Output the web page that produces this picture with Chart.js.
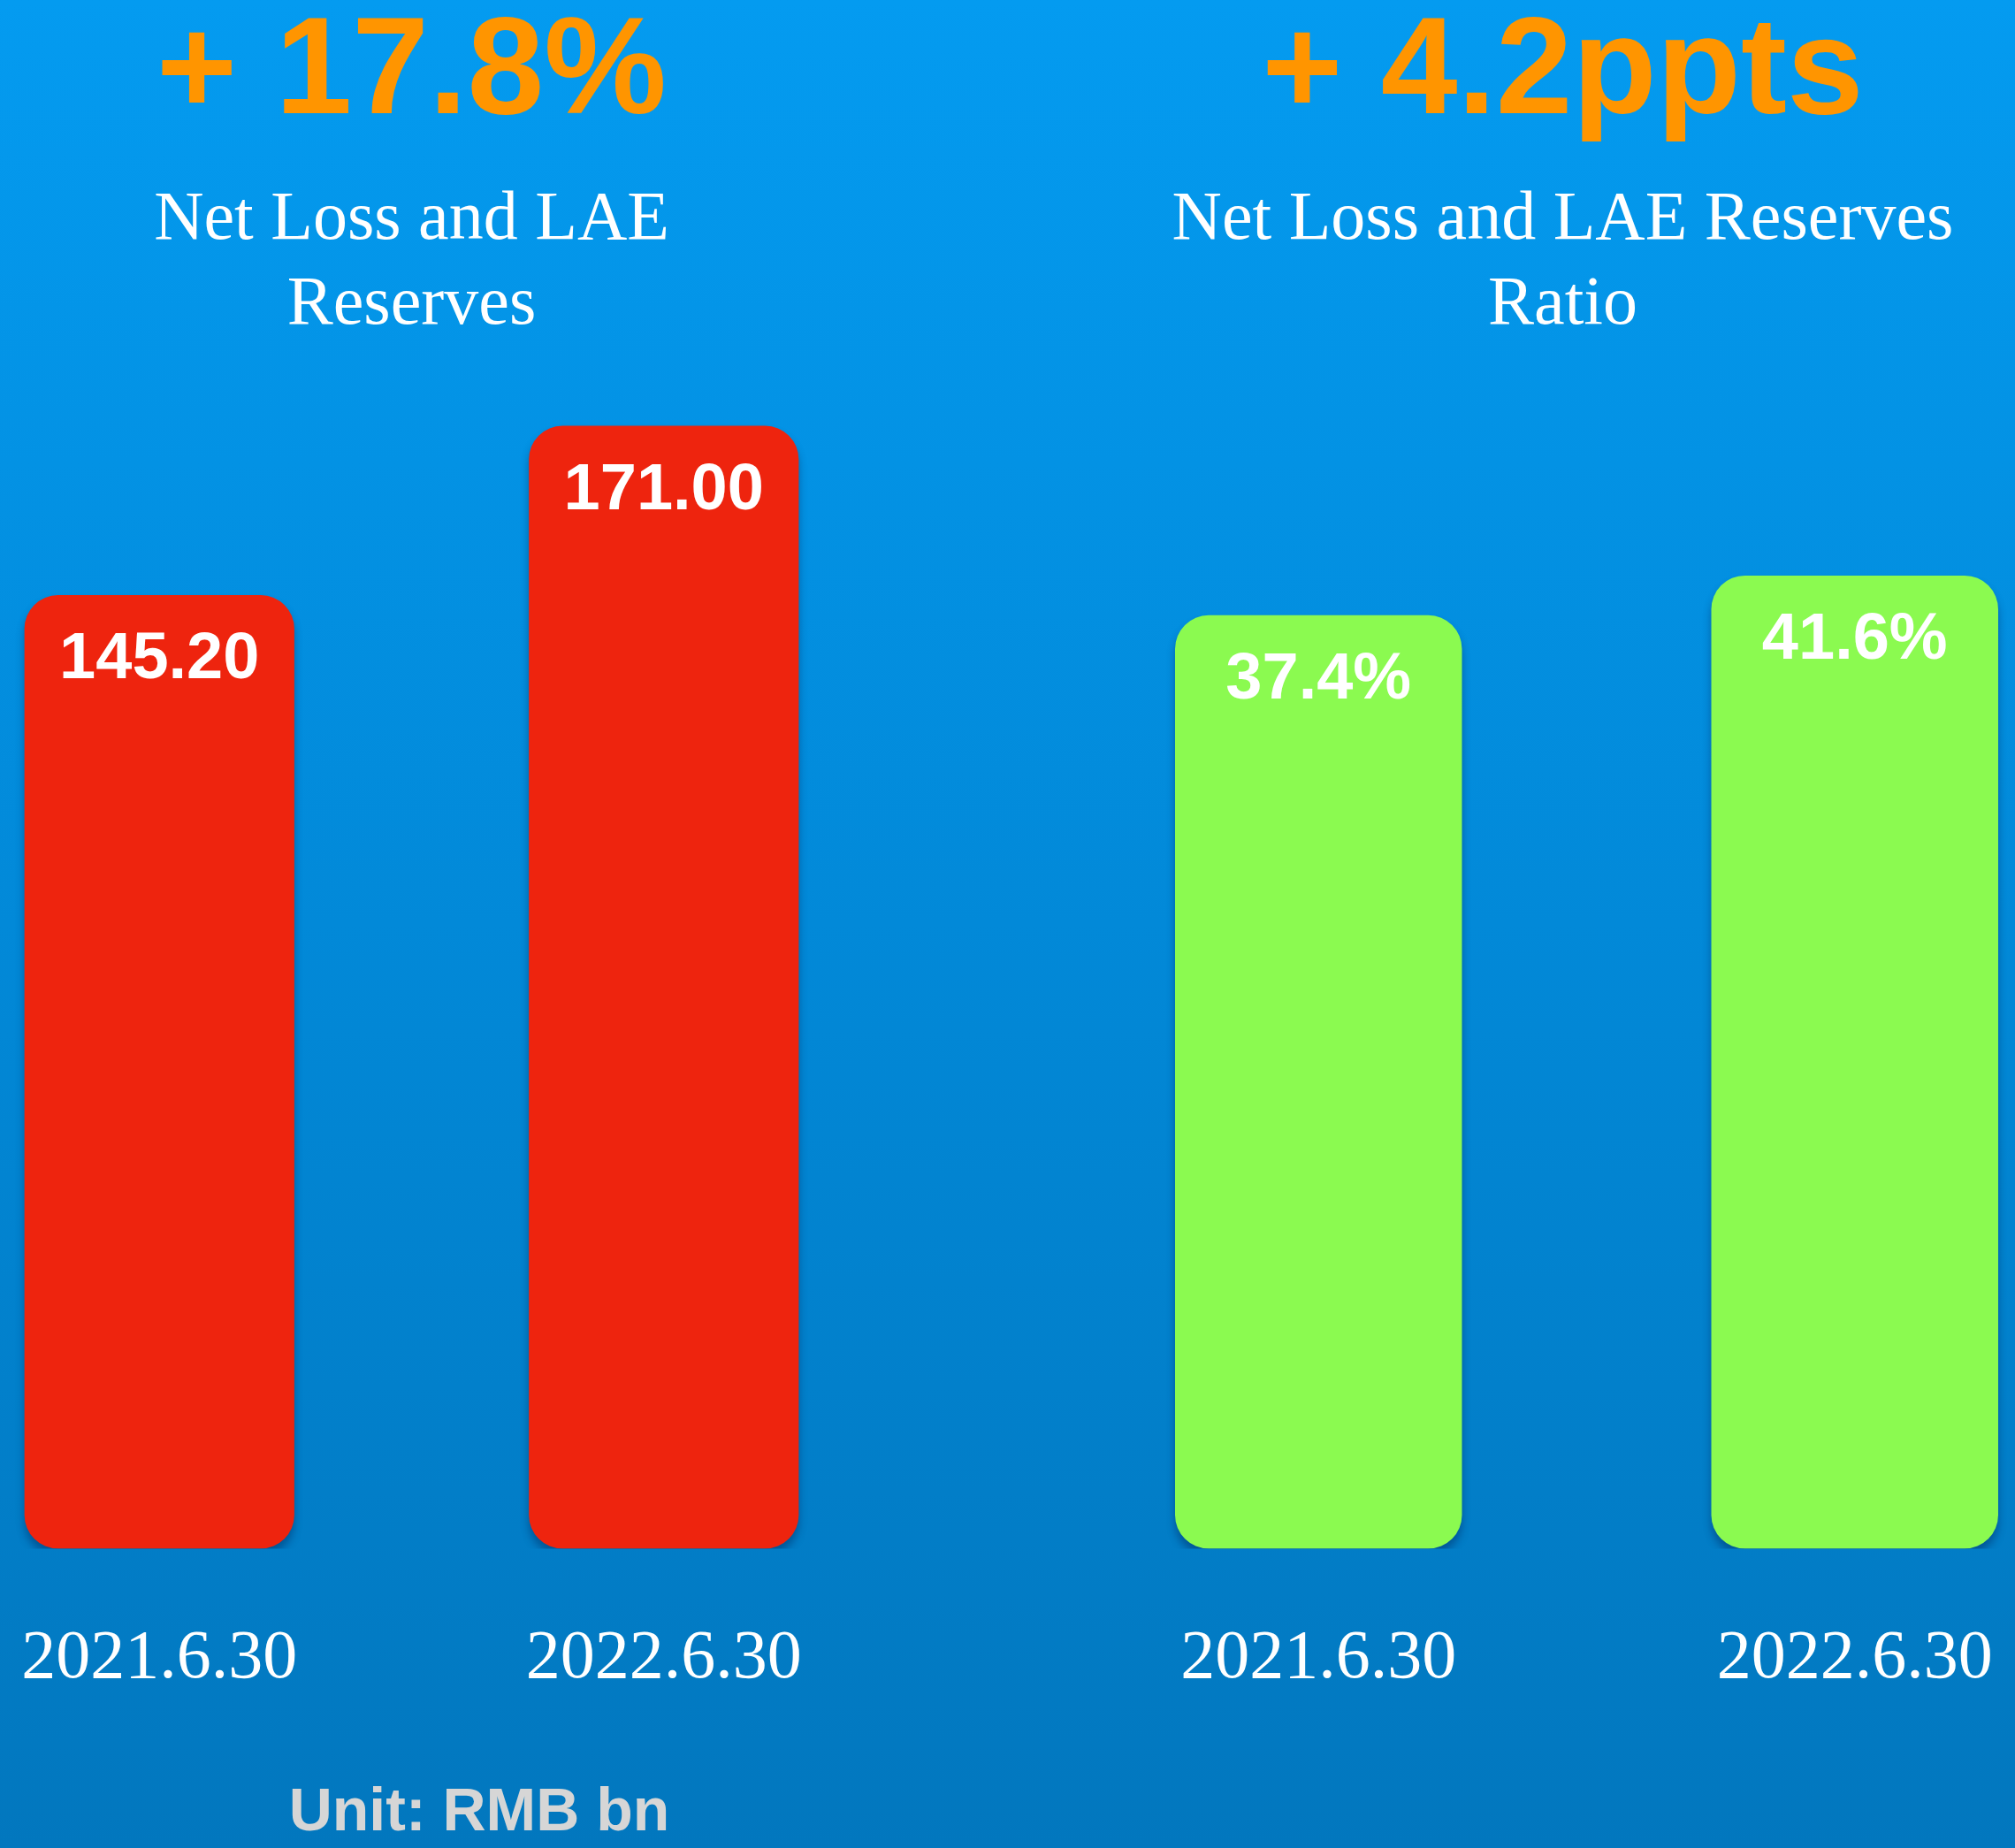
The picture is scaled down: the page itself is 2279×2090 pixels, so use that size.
<!DOCTYPE html>
<html>
<head>
<meta charset="utf-8">
<script src="https://cdn.jsdelivr.net/npm/chart.js@4.4.1/dist/chart.umd.min.js"></script>
<style>
  html, body {
    margin: 0;
    padding: 0;
    width: 2279px;
    height: 2090px;
    overflow: hidden;
  }
  body {
    position: relative;
    background: linear-gradient(to bottom, #049bf0 0%, #0289d8 50%, #0277be 100%);
  }
  canvas {
    position: absolute;
    top: 0;
  }
  #leftChart { left: -105px; }
  #rightChart { left: 1134px; }
  #unit {
    position: absolute;
    left: 242px;
    width: 600px;
    top: 2012px;
    text-align: center;
    font: bold 68px "Liberation Sans", Arial, sans-serif;
    line-height: 68px;
    color: #d6d6d6;
  }
</style>
</head>
<body>
<canvas id="leftChart" width="1141" height="2090"></canvas>
<canvas id="rightChart" width="1267" height="2090"></canvas>
<div id="unit"></div>

<script>
// data
const dateLabels = ["2021.6.30", "2022.6.30"];
const reserveValues = [145.20, 171.00];
const ratioValues = [37.4, 41.6];

const reserveTitle = "+ 17.8%";
const reserveSubtitle = ["Net Loss and LAE", "Reserves"];
const ratioTitle = "+ 4.2ppts";
const ratioSubtitle = ["Net Loss and LAE Reserves", "Ratio"];
const unitText = "Unit: RMB bn";

document.getElementById("unit").textContent = unitText;

// shadow under the bars + white value labels inside the bar tops
const barDecor = {
  id: "barDecor",
  beforeDatasetsDraw(chart) {
    const c = chart.ctx;
    c.save();
    c.shadowColor = "rgba(0, 40, 90, 0.45)";
    c.shadowBlur = 10;
    c.shadowOffsetY = 8;
  },
  afterDatasetsDraw(chart, args, opts) {
    const c = chart.ctx;
    c.restore();
    const meta = chart.getDatasetMeta(0);
    const values = chart.data.datasets[0].data;
    c.save();
    c.fillStyle = "#ffffff";
    c.font = "bold 74px 'Liberation Sans', Arial, sans-serif";
    c.textAlign = "center";
    c.textBaseline = "alphabetic";
    meta.data.forEach((bar, i) => {
      c.fillText(opts.format(values[i]), bar.x, bar.y + 94);
    });
    c.restore();
  }
};

function makeChart(id, values, color, title, subtitle, format, yMin, yMax, yWidth) {
  return new Chart(document.getElementById(id), {
    type: "bar",
    data: {
      labels: dateLabels,
      datasets: [{
        data: values,
        backgroundColor: color,
        borderRadius: 38,
        borderSkipped: false,
        barPercentage: 0.535,
        categoryPercentage: 1,
        base: yMin
      }]
    },
    options: {
      responsive: false,
      animation: false,
      layout: { padding: { top: 0, bottom: 89, left: 0, right: 0 } },
      plugins: {
        legend: { display: false },
        tooltip: { enabled: false },
        title: {
          display: true,
          text: title,
          color: "#ff9500",
          font: { family: "'Liberation Sans', Arial, sans-serif", size: 156, weight: "bold", lineHeight: 0.91 },
          padding: { top: 14, bottom: 46 }
        },
        subtitle: {
          display: true,
          text: subtitle,
          color: "#ffffff",
          font: { family: "'Liberation Serif', 'Times New Roman', serif", size: 78, weight: "normal", lineHeight: 1.23 },
          padding: { top: 0, bottom: 6 }
        },
        barDecor: { format }
      },
      scales: {
        x: {
          grid: { display: false, drawTicks: false },
          border: { display: false },
          ticks: {
            color: "#ffffff",
            padding: 78,
            font: { family: "'Liberation Serif', 'Times New Roman', serif", size: 78 }
          }
        },
        y: {
          display: yWidth > 0,
          min: yMin,
          max: yMax,
          grid: { display: false, drawTicks: false },
          border: { display: false },
          ticks: { display: false },
          afterFit: s => { s.width = yWidth; }
        }
      }
    },
    plugins: [barDecor]
  });
}

makeChart("leftChart", reserveValues, "#ee240e", reserveTitle, reserveSubtitle,
  v => v.toFixed(2), 0, 182, 0);

makeChart("rightChart", ratioValues, "#8bfa50", ratioTitle, ratioSubtitle,
  v => v.toFixed(1) + "%", -61.4, 65.1, 54);
</script>
</body>
</html>
